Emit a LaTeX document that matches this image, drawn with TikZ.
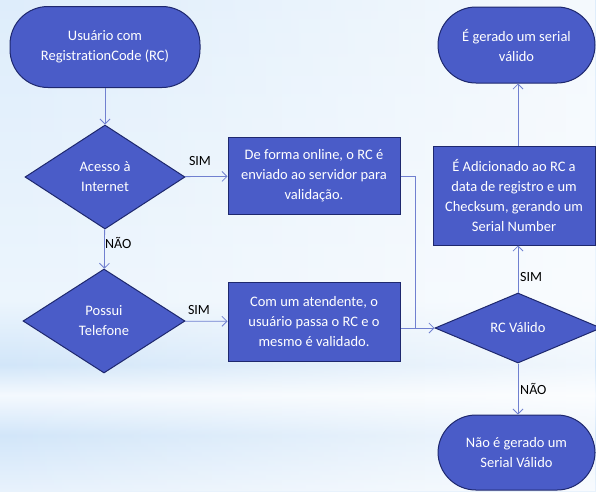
\documentclass[tikz,border=0pt]{standalone}
\usepackage{fontspec}
\setmainfont{Carlito}[RawFeature=-liga]
\usetikzlibrary{shapes.geometric,arrows.meta,calc,fadings}
\definecolor{boxfill}{RGB}{74,92,200}
\definecolor{boxline}{RGB}{30,40,110}
\definecolor{wire}{RGB}{112,128,208}
\definecolor{skyTop}{RGB}{222,237,251}
\definecolor{skyMid}{RGB}{236,245,253}
\definecolor{skyBand}{RGB}{210,230,249}
\definecolor{skyLight}{RGB}{244,249,254}
\definecolor{skyLow}{RGB}{232,242,252}
\begin{document}
\begin{tikzpicture}[x=1pt,y=-1pt,
  every node/.style={font=\fontsize{14.5}{20}\selectfont},
  shapebase/.style={draw=boxline,line width=1pt,fill=boxfill,text=white,align=center,inner sep=0pt},
  terminal/.style={shapebase,rectangle,rounded corners=38pt,minimum width=#1,minimum height=78pt},
  procbox/.style={shapebase,rectangle},
  decision/.style={shapebase,diamond},
  wirestyle/.style={draw=wire,line width=0.8pt},
  flow/.style={wirestyle,-{Straight Barb[length=5pt,width=10pt]}},
  lbl/.style={font=\fontsize{14}{16}\selectfont,text=black,inner sep=0pt}
]
% page and sky background
\useasboundingbox (0,0) rectangle (596,491);
\clip (0,0) rectangle (596,491);
\shade[top color=skyTop,bottom color=skyMid] (0,0) rectangle (596,300);
\shade[top color=skyMid,bottom color=skyBand] (0,300) rectangle (596,365);
\shade[top color=skyBand,bottom color=skyLight] (0,365) rectangle (596,395);
\shade[top color=skyLight,bottom color=skyBand] (0,395) rectangle (596,435);
\shade[top color=skyBand,bottom color=skyLow] (0,435) rectangle (596,491);
\fill[white,path fading=west,opacity=0.7] (0,0) rectangle (596,491);

% nodes
\node[terminal=190pt,minimum height=81pt] (start) at (105,47) {Usuário com\\RegistrationCode (RC)};
\node[decision,minimum width=160pt,minimum height=104pt] (net) at (105,177) {Acesso à\\Internet};
\node[decision,minimum width=162pt,minimum height=104pt] (tel) at (104,321) {Possui\\Telefone};
\node[procbox,minimum width=172pt,minimum height=77pt] (online) at (314,176) {De forma online, o RC é\\enviado ao servidor para\\validação.};
\node[procbox,minimum width=172pt,minimum height=79pt] (phone) at (314,321.5) {Com um atendente, o\\usuário passa o RC e o\\mesmo é validado.};
\node[decision,minimum width=166pt,minimum height=70pt] (valid) at (518,328) {RC Válido};
\node[procbox,minimum width=162pt,minimum height=99pt] (serial) at (514,195.5) {É Adicionado ao RC a\\data de registro e um\\Checksum, gerando um\\Serial Number};
\node[terminal=157pt,minimum height=76pt] (ok) at (516.5,45) {É gerado um serial\\válido};
\node[terminal=157pt,minimum height=75pt] (fail) at (516.5,452.5) {Não é gerado um\\Serial Válido};
\coordinate (join) at (415,328);

% branch labels
\node[lbl] (simNet) at (200,161) {SIM};
\node[lbl] (simTel) at (199,310) {SIM};
\node[lbl,anchor=west] (naoNet) at (105,243) {NÃO};
\node[lbl,anchor=west] (simValid) at (520,277) {SIM};
\node[lbl,anchor=west] (naoValid) at (520,389) {NÃO};

% connectors
\draw[flow] (start) -- (net);
\draw[flow] (net) -- (online);
\draw[flow] (net) -- (tel);
\draw[flow] (tel) -- (phone);
\draw[wirestyle] (online.east) -| (join);
\draw[flow] (phone.east |- valid.west) -- (valid.west);
\draw[flow] (valid.north) -- (serial.south -| valid.north);
\draw[flow] (serial.north -| valid.north) -- (ok.south -| valid.north);
\draw[flow] (valid.south) -- (fail.north -| valid.south);
\end{tikzpicture}
\end{document}
